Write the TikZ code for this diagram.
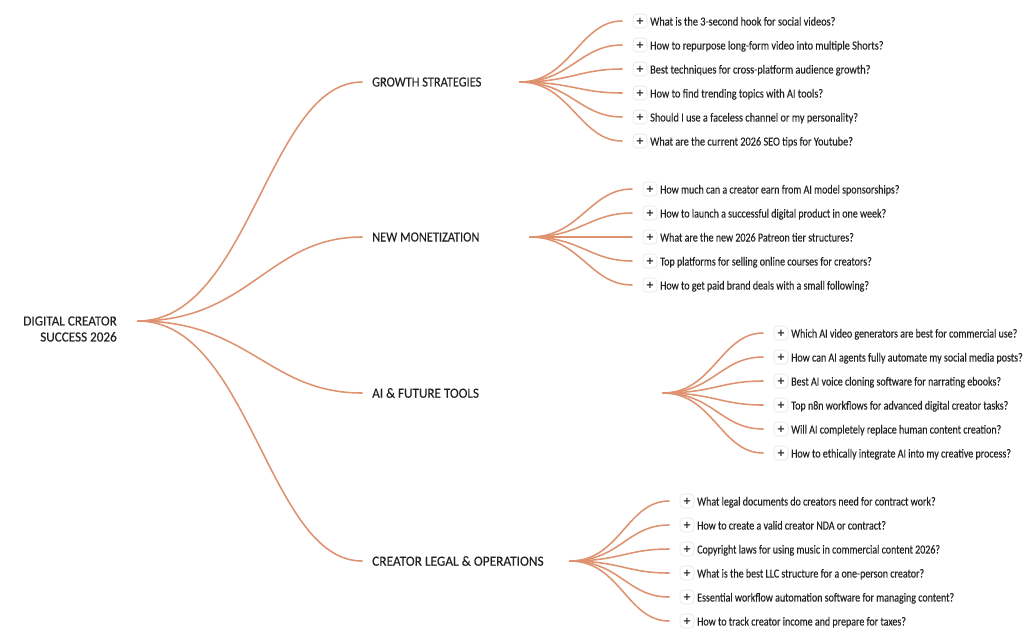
\documentclass[tikz,border=0pt]{standalone}
\usepackage{fontspec}
\usetikzlibrary{calc}
\setmainfont{Carlito}
\newfontfamily\leaffont[FakeStretch=0.835,FakeBold=0.15]{Carlito}
\newfontfamily\leafnarrow[FakeStretch=0.812,FakeBold=0.15]{Carlito}
\newfontfamily\branchfont[FakeStretch=0.885,FakeBold=0.15]{Carlito}
\newfontfamily\widefont[FakeStretch=0.94,FakeBold=0.15]{Carlito}
\newfontfamily\legalfont[FakeStretch=0.955,FakeBold=0.15]{Carlito}
\newfontfamily\plusfont{DejaVu Sans}
\definecolor{linkc}{HTML}{DF9270}
\definecolor{inkc}{HTML}{222222}
\tikzset{
 link/.style={draw=linkc,line width=1.55pt,line cap=round},
 rootlabel/.style={anchor=east,align=right,text=inkc,font=\fontsize{14}{16}\widefont,inner sep=0pt},
 branchlabel/.style={anchor=west,text=inkc,font=\fontsize{14}{16}\branchfont,inner xsep=10pt,inner ysep=0pt},
 plusbox/.style={draw=black!10,fill=white,rounded corners=3.5pt,line width=.6pt,minimum width=14pt,minimum height=14pt,inner sep=0pt,outer xsep=11pt,text=inkc,font=\fontsize{10}{10}\plusfont\bfseries},
 leaflabel/.style={anchor=base west,text=inkc,font=\fontsize{12.3}{14}\leaffont,inner sep=0pt},
}
\newcommand{\leaf}[5]{% name, hub, x of connector end, y, text
 \node[plusbox] (#1p) at (#3+18,#4) {+};
 \node[leaflabel] (#1) at (#3+28,#4+4.5) {#5};
 \draw[link] (#2) .. controls ($(#2)+(50,0)$) and ($(#1p.west)+(-42,0)$) .. (#1p.west);
}
\begin{document}
\begin{tikzpicture}[x=1pt,y=-1pt]
\useasboundingbox (0,0) rectangle (1024,643);
\coordinate (hub) at (138,321);
\node[rootlabel] (root) at (117,329) {DIGITAL CREATOR\\SUCCESS 2026};
\node[branchlabel] (b1) at (362,82) {GROWTH STRATEGIES};
\node[branchlabel] (b2) at (362,237) {NEW MONETIZATION};
\node[branchlabel,font=\fontsize{14}{16}\widefont] (b3) at (362,393) {AI \& FUTURE TOOLS};
\node[branchlabel,font=\fontsize{14}{16}\legalfont] (b4) at (362,561) {CREATOR LEGAL \& OPERATIONS};
\foreach \b in {b1,b2,b3,b4}{
 \draw[link] (hub) .. controls ($(hub)+(112,0)$) and ($(\b.west)+(-94,0)$) .. (\b.west);
}
\coordinate (h1) at (520,82);
\coordinate (h2) at (530,237);
\coordinate (h3) at (663,393);
\coordinate (h4) at (570,561);
\leaf{a1}{h1}{622}{21}{What is the 3-second hook for social videos?}
\leaf{a2}{h1}{622}{45}{How to repurpose long-form video into multiple Shorts?}
\leaf{a3}{h1}{622}{69}{Best techniques for cross-platform audience growth?}
\leaf{a4}{h1}{622}{93}{How to find trending topics with AI tools?}
\leaf{a5}{h1}{622}{117}{Should I use a faceless channel or my personality?}
\leaf{a6}{h1}{622}{141}{What are the current 2026 SEO tips for Youtube?}
\begin{scope}[leaflabel/.append style={font=\fontsize{12.3}{14}\leafnarrow}]
\leaf{c1}{h2}{632}{189}{How much can a creator earn from AI model sponsorships?}
\leaf{c2}{h2}{632}{213}{How to launch a successful digital product in one week?}
\leaf{c3}{h2}{632}{237}{What are the new 2026 Patreon tier structures?}
\leaf{c4}{h2}{632}{261}{Top platforms for selling online courses for creators?}
\leaf{c5}{h2}{632}{285}{How to get paid brand deals with a small following?}
\leaf{d1}{h3}{763}{333}{Which AI video generators are best for commercial use?}
\leaf{d2}{h3}{763}{357}{How can AI agents fully automate my social media posts?}
\leaf{d3}{h3}{763}{381}{Best AI voice cloning software for narrating ebooks?}
\leaf{d4}{h3}{763}{405}{Top n8n workflows for advanced digital creator tasks?}
\leaf{d5}{h3}{763}{429}{Will AI completely replace human content creation?}
\leaf{d6}{h3}{763}{453}{How to ethically integrate AI into my creative process?}
\leaf{f1}{h4}{669}{501}{What legal documents do creators need for contract work?}
\leaf{f2}{h4}{669}{525}{How to create a valid creator NDA or contract?}
\leaf{f3}{h4}{669}{549}{Copyright laws for using music in commercial content 2026?}
\leaf{f4}{h4}{669}{573}{What is the best LLC structure for a one-person creator?}
\leaf{f5}{h4}{669}{597}{Essential workflow automation software for managing content?}
\leaf{f6}{h4}{669}{621}{How to track creator income and prepare for taxes?}
\end{scope}
\end{tikzpicture}
\end{document}
